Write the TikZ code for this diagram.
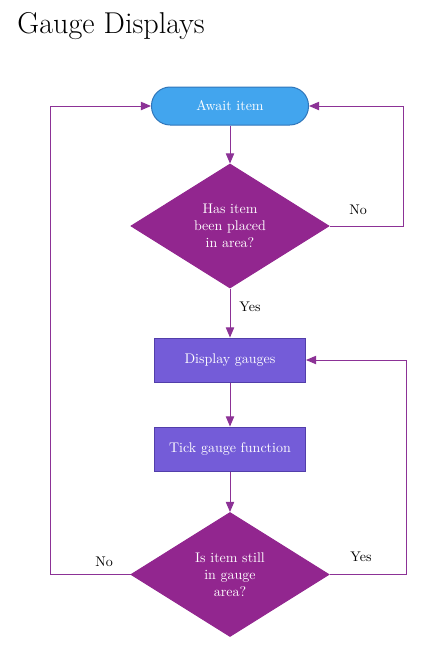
\documentclass[tikz,border=0pt]{standalone}
\usepackage{tikz}
\usetikzlibrary{shapes}
\usetikzlibrary{arrows}
\definecolor{pillC}{RGB}{66,165,238}
\definecolor{pillD}{RGB}{48,118,186}
\definecolor{diaC}{RGB}{146,38,143}
\definecolor{boxC}{RGB}{116,92,216}
\definecolor{boxD}{RGB}{82,62,170}
\definecolor{lineC}{RGB}{140,50,150}
\tikzstyle{term}=[rectangle,rounded corners=14pt,draw=pillD,fill=pillC,text=white,minimum width=117.75pt,minimum height=28.5pt,font=\fontsize{10.5}{12.75}\selectfont]
\tikzstyle{decision}=[diamond,draw=diaC,fill=diaC,text=white,inner sep=0pt,minimum width=148.5pt,minimum height=93pt,align=center,font=\fontsize{10.5}{12.75}\selectfont]
\tikzstyle{process}=[rectangle,draw=boxD,fill=boxC,text=white,minimum width=113.25pt,minimum height=33pt,font=\fontsize{10.5}{12.75}\selectfont]
\tikzstyle{lbl}=[font=\fontsize{10.5}{12.75}\selectfont]
\tikzstyle{arrow}=[->,>=triangle 45,draw=lineC]
\tikzset{every picture/.style={
    line width=0.75pt
  }
}
\begin{document}
\begin{tikzpicture}[x=0.75pt,y=-0.75pt]
      \useasboundingbox (0,0) rectangle (440,662);
      \node[anchor=west,font=\fontsize{22.6}{26}\selectfont] at (12.5,26) (title) {Gauge Displays};
      \node[term] at (230,106) (await) {Await item};
      \node[decision] at (230,226) (placed) {Has item\\been placed\\in area?};
      \node[process] at (230,360) (display) {Display gauges};
      \node[process] at (230,449) (tick) {Tick gauge function};
      \node[decision] at (230,574.5) (still) {Is item still\\in gauge\\area?};
      \node[lbl] at (358,210) (no1) {No};
      \node[lbl] at (250,307) (yes1) {Yes};
      \node[lbl] at (104,562) (no2) {No};
      \node[lbl] at (361,557) (yes2) {Yes};
      % main line
      \draw[arrow] (await) -- (placed);
      \draw[arrow] (placed) -- (display);
      \draw[arrow] (display) -- (tick);
      \draw[arrow] (tick) -- (still);
      % loops
      \draw[arrow] (placed.east) -- ++(74,0) |- (await.east);
      \draw[arrow] (still.west) -- ++(-80,0) |- (await.west);
      \draw[arrow] (still.east) -- ++(77,0) |- (display.east);
    \end{tikzpicture}
\end{document}
